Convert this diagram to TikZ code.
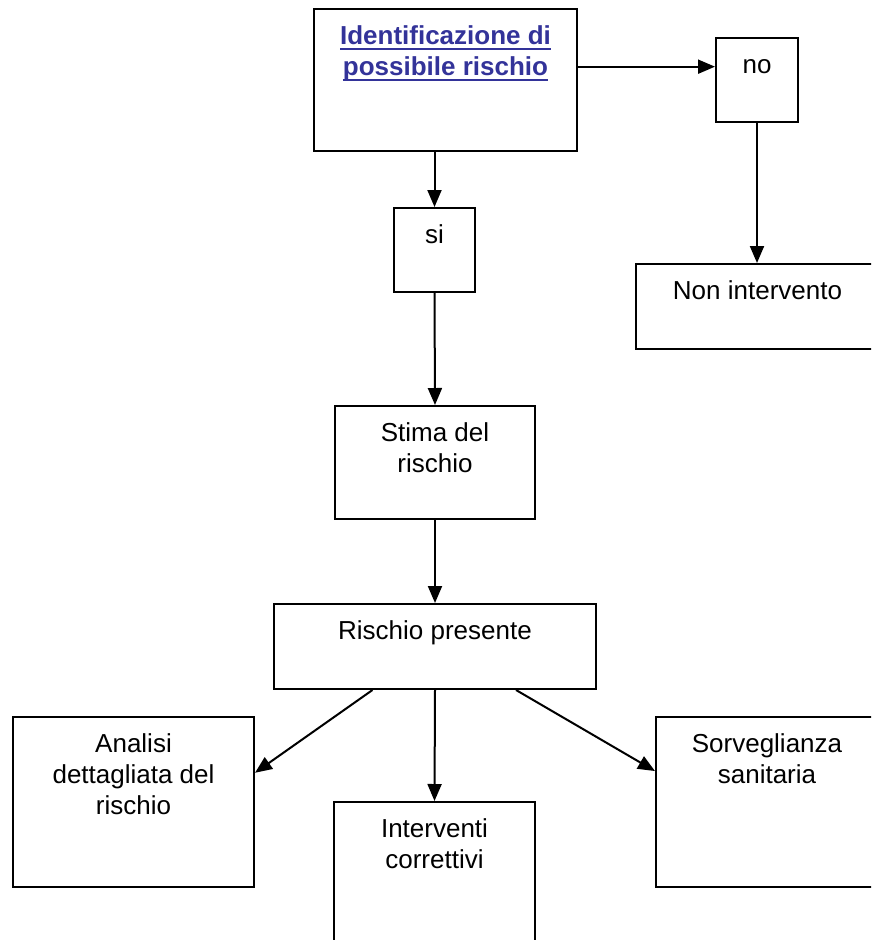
\documentclass[tikz,border=0pt]{standalone}
\usepackage{fontspec}
\setmainfont{Liberation Sans}
\usetikzlibrary{arrows.meta,calc}
\tikzset{>={Triangle[length=17pt,width=14pt]}}
\definecolor{TitleBlue}{HTML}{333399}
\tikzset{
  StepBox/.style={
    draw, line width=2pt, inner sep=0pt, anchor=north west,
    font=\fontsize{26}{31}\selectfont
  },
  Link/.style={line width=2pt, ->}
}
% text sits at the top of each box, as in a text frame
\newcommand{\BoxText}[3]{\parbox[t][#2][t]{#1}{\centering\vspace*{14pt}\strut #3}}
\newlength{\ULwidth}
\newcommand{\ULine}[1]{\leavevmode\settowidth{\ULwidth}{#1}\rlap{\rule[-5pt]{\ULwidth}{2pt}}#1}

\begin{document}
\begin{tikzpicture}[x=1pt,y=-1pt]
    \useasboundingbox (0,0) rectangle (871,940);
    \clip (0,0) rectangle (871,940);

    \node[StepBox] (ident) at (313,8) {\BoxText{263pt}{142pt}{\bfseries\color{TitleBlue}\ULine{Identificazione di}\\\ULine{possibile rischio}}};
    \node[StepBox] (nobox) at (715,37) {\BoxText{82pt}{84pt}{no}};
    \node[StepBox] (sibox) at (393,207) {\BoxText{81pt}{84pt}{si}};
    \node[StepBox] (nonint) at (635,263) {\BoxText{243pt}{85pt}{Non intervento}};
    \node[StepBox] (stima) at (334,405) {\BoxText{200pt}{113pt}{Stima del\\rischio}};
    \node[StepBox] (presente) at (273,603) {\BoxText{322pt}{85pt}{Rischio presente}};
    \node[StepBox] (analisi) at (12,716) {\BoxText{241pt}{170pt}{Analisi\\dettagliata del\\rischio}};
    \node[StepBox] (interventi) at (333,801) {\BoxText{201pt}{170pt}{Interventi\\correttivi}};
    \node[StepBox] (sorveglianza) at (655,716) {\BoxText{222pt}{170pt}{Sorveglianza\\sanitaria}};

    \coordinate (noin) at ($(nobox.north west)!0.345!(nobox.south west)$);
    \draw[Link] (ident.east |- noin) -- (noin);
    \draw[Link] (nobox.south) -- (nobox.south |- nonint.north);
    \draw[Link] (sibox.north |- ident.south) -- (sibox.north);
    \draw[Link] (sibox.south) -- (stima.north);
    \draw[Link] (stima.south) -- (presente.north);
    \draw[Link] (presente.south) -- (interventi.north);
    \draw[Link] ($(presente.south west)!0.307!(presente.south east)$) -- ($(analisi.north east)!0.33!(analisi.south east)$);
    \draw[Link] ($(presente.south west)!0.75!(presente.south east)$) -- ($(sorveglianza.north west)!0.32!(sorveglianza.south west)$);
\end{tikzpicture}
\end{document}
